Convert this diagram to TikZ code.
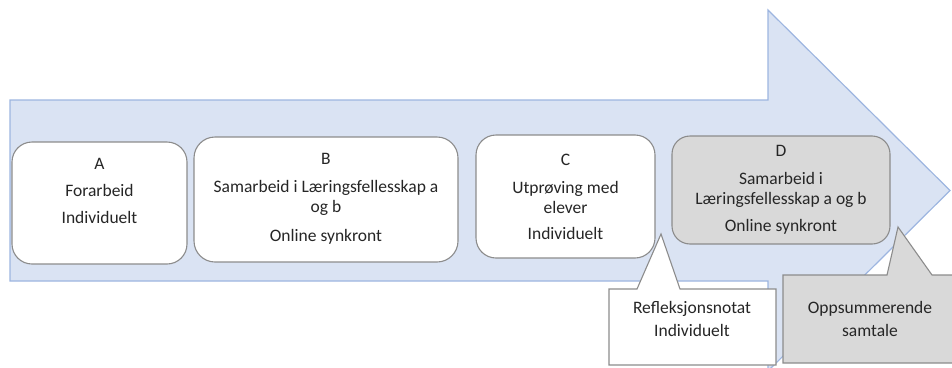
\documentclass[tikz,border=0pt]{standalone}
\usepackage{fontspec}
\setmainfont{Carlito}
\definecolor{arrowfill}{HTML}{DAE3F3}
\definecolor{arrowline}{HTML}{9DB5E0}
\definecolor{boxline}{HTML}{8C8C8C}
\definecolor{grayfill}{HTML}{D9D9D9}
\begin{document}
\begin{tikzpicture}[x=1pt,y=-1pt,
  stepbox/.style={draw=boxline, line width=1.1pt, fill=white, inner sep=0pt},
  graybox/.style={stepbox, fill=grayfill},
  txt/.style={align=center, font=\fontsize{17.5}{20}\selectfont, inner sep=0pt, text=black!85},
  calltxt/.style={align=center, font=\fontsize{17.5}{23}\selectfont, inner sep=0pt, text=black!85},
  callline/.style={draw=boxline, line width=1.1pt}
]
\useasboundingbox (0,0) rectangle (952,367);
\begin{scope}
\clip (0,0) rectangle (952,367);
% big arrow
\draw[draw=arrowline, fill=arrowfill, line width=1.2pt]
  (10,100) -- (768,100) -- (768,10) -- (950,190.5) -- (768,371) -- (768,281) -- (10,281) -- cycle;
% boxes
\node[stepbox, rounded corners=20pt, minimum width=175pt, minimum height=122pt] (A) at (99.5,203) {};
\node[stepbox, rounded corners=21pt, minimum width=264pt, minimum height=125pt] (B) at (326,199.5) {};
\node[stepbox, rounded corners=20pt, minimum width=179pt, minimum height=123pt] (C) at (565.5,196.5) {};
\node[graybox, rounded corners=18pt, minimum width=218pt, minimum height=108pt] (D) at (781,190) {};
% texts
\node[txt] (At) at (A.center |- 0,191) {A\\[7pt]Forarbeid\\[7pt]Individuelt};
\node[txt] (Bt) at (B.center |- 0,198.5) {B\\[8pt]Samarbeid i Læringsfellesskap a\\og b\\[9pt]Online synkront};
\node[txt] (Ct) at (C.center |- 0,196.5) {C\\[8pt]Utprøving med\\elever\\[6pt]Individuelt};
\node[txt] (Dt) at (D.center |- 0,189.5) {D\\[8pt]Samarbeid i\\Læringsfellesskap a og b\\[7pt]Online synkront};
% callout 1
\draw[callline, fill=white]
  (609,289) -- (637,289) -- (661,234) -- (680,289) -- (776,289) -- (776,365) -- (609,365) -- cycle;
\node[calltxt] (Rt) at (692,318.5) {Refleksjonsnotat\\Individuelt};
% callout 2
\draw[callline, fill=grayfill]
  (783,275) -- (887,275) -- (898,227) -- (932,275) -- (970,275) -- (970,363) -- (783,363) -- cycle;
\node[calltxt] (Ot) at (870,318.5) {Oppsummerende\\samtale};
\end{scope}
\end{tikzpicture}
\end{document}
